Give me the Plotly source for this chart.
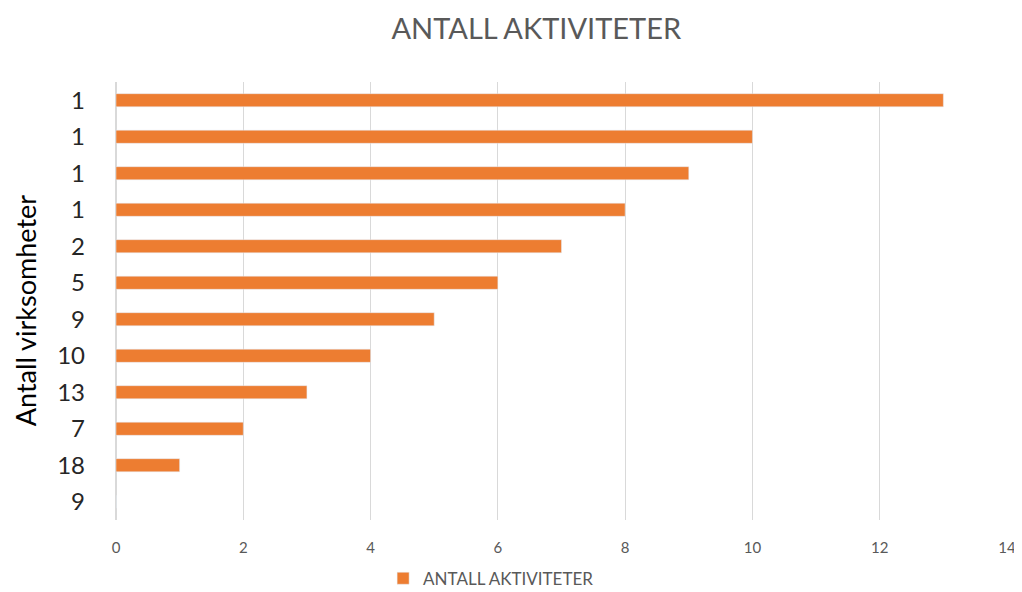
import plotly.graph_objects as go

labels = ["1", "1", "1", "1", "2", "5", "9", "10", "13", "7", "18", "9"]
aktiviteter = [13, 10, 9, 8, 7, 6, 5, 4, 3, 2, 1, 0]
positions = list(range(len(labels)))

font = "Lato, 'Open Sans', sans-serif"

fig = go.Figure()
fig.add_trace(
    go.Bar(
        x=aktiviteter,
        y=positions,
        orientation="h",
        width=0.36,
        marker_color="#ED7D31",
        name="ANTALL AKTIVITETER",
    )
)
# the page body adds ~8px offset, so the figure is a little smaller than the window
fig.update_layout(
    width=1014,
    height=584,
    margin=dict(l=108, r=15, t=74, b=72, autoexpand=False),
    plot_bgcolor="white",
    paper_bgcolor="white",
    font=dict(family=font, color="#595959"),
    title=dict(
        text="ANTALL AKTIVITETER",
        x=0.521,
        xanchor="center",
        y=0.964,
        yanchor="middle",
        font=dict(size=29, color="#595959"),
    ),
    showlegend=True,
    legend=dict(
        orientation="h",
        x=0.421,
        xanchor="center",
        y=-0.134,
        yanchor="middle",
        font=dict(size=17, color="#595959"),
        itemwidth=30,
        tracegroupgap=0,
    ),
    xaxis=dict(
        range=[0, 14],
        dtick=2,
        showgrid=True,
        gridcolor="#D9D9D9",
        gridwidth=1,
        zeroline=True,
        zerolinecolor="#D9D9D9",
        tickfont=dict(size=15, color="#595959"),
        ticks="",
        ticklabelstandoff=17,
        automargin=False,
    ),
    yaxis=dict(
        tickvals=positions,
        ticktext=labels,
        range=[len(labels) - 0.5, -0.5],
        showgrid=False,
        zeroline=False,
        tickfont=dict(size=24, color="#262626"),
        ticklabelstandoff=30,
        automargin=False,
    ),
)
# y-axis title as an annotation so it can sit further left than the standoff allows
fig.add_annotation(
    text="Antall virksomheter",
    xref="paper",
    yref="paper",
    x=-0.102,
    y=0.477,
    xanchor="center",
    yanchor="middle",
    textangle=-90,
    showarrow=False,
    font=dict(size=27, color="#000000"),
)
fig.write_html("out.html")
